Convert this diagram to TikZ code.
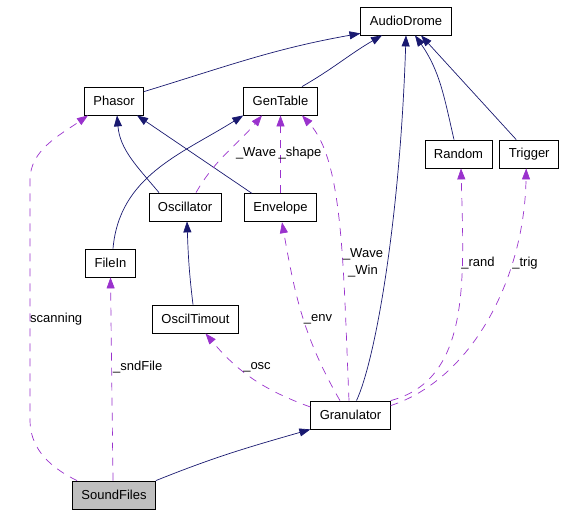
\documentclass[tikz,border=0pt]{standalone}
\usepackage{fontspec}
\setmainfont{Liberation Sans}
\usepackage{tikz}
\usetikzlibrary{arrows.meta}
\usetikzlibrary{positioning}
\definecolor{midnight}{HTML}{191970}
\definecolor{orchid}{HTML}{9A32CD}
\tikzset{
    cls/.style={
           rectangle,
           draw=black, line width=0.8pt,
           minimum height=28pt,
           inner xsep=9pt,
           text centered,
           },
}
\tikzset{
    sel/.style={
           cls,
           fill=gray!50,
           },
}
\tikzset{
    inh/.style={
           draw=midnight, line width=0.7pt,
           -{Triangle[length=11pt,width=8pt]},
           },
}
\tikzset{
    use/.style={
           draw=orchid, line width=0.7pt,
           dash pattern=on 8pt off 7pt,
           -{Triangle[length=11pt,width=8pt]},
           },
}
\tikzset{
    lbl/.style={
           inner sep=0pt,
           align=center,
           },
}
\begin{document}
\begin{tikzpicture}[font=\fontsize{13}{17}\selectfont]
\useasboundingbox (0,0) rectangle (565pt,-514pt);
\begin{scope}[x=1pt,y=1pt]
\node[cls](audio) at (406,-21){AudioDrome};
\node[cls](phasor) at (114,-101){Phasor};
\node[cls](gentable) at (280.5,-101){GenTable};
\node[cls](random) at (458.5,-154){Random};
\node[cls,right=7pt of random](trigger){Trigger};
\node[cls](oscillator) at (185,-207){Oscillator};
\node[cls,below=78pt of gentable](envelope){Envelope};
\node[cls](filein) at (110.5,-263){FileIn};
\node[cls](timout) at (195.5,-319){OscilTimout};
\node[cls](granulator) at (350.5,-415){Granulator};
\node[sel](sound) at (114,-495){SoundFiles};

\draw[inh] ([yshift=-5pt]phasor.north east) to[out=17,in=190] ([yshift=2pt]audio.south west);
\draw[inh] ([xshift=21.5pt]gentable.north) to[out=30,in=210] ([xshift=-24pt]audio.south);
\draw[inh] ([xshift=6pt]granulator.north) .. controls +(19,41) and +(-6,-184) .. (audio.south);
\draw[inh] ([xshift=-4.5pt]random.north) to[out=103,in=-55] ([xshift=9pt]audio.south);
\draw[inh] ([xshift=-13pt]trigger.north) -- ([xshift=15pt]audio.south);
\draw[inh] ([xshift=-26pt]oscillator.north) to[out=130,in=-85] ([xshift=3pt]phasor.south);
\draw[inh] ([xshift=-28.5pt]envelope.north) -- ([xshift=23pt]phasor.south);
\draw[inh] ([xshift=2.5pt]filein.north) to[out=85,in=212] (gentable.south west);
\draw[inh] ([xshift=-2.5pt]timout.north) to[out=97,in=-88] ([xshift=2pt]oscillator.south);
\draw[inh] (sound.north east) to[out=22,in=196] (granulator.south west);

\draw[use] ([xshift=5pt]sound.north west) .. controls (45,-465) and (30,-445) .. (30,-420) -- (30,-180) .. controls (30,-150) and (60,-135) .. ([xshift=4pt]phasor.south west);
\draw[use] ([xshift=-1pt]sound.north) -- (filein.south);
\draw[use] ([yshift=8pt]granulator.west) to[out=160,in=-50] ([xshift=10pt]timout.south);
\draw[use] ([xshift=-10.5pt]granulator.north) to[out=120,in=-80] ([xshift=1.5pt]envelope.south);
\draw[use] ([xshift=-1.5pt]granulator.north) .. controls +(-6,141) and +(41,-45) .. ([xshift=21.5pt]gentable.south);
\draw[use] ([xshift=11pt]oscillator.north) to[out=60,in=-130] ([xshift=-18.5pt]gentable.south);
\draw[use] (envelope.north) -- (gentable.south);
\draw[use] (granulator.north east) .. controls +(80,21) and +(3,-112) .. ([xshift=2.5pt]random.south);
\draw[use] ([yshift=-5pt]granulator.north east) .. controls +(80,26) and +(-2,-112) .. ([xshift=-3pt]trigger.south);

\node[lbl,anchor=west](scanning) at (30,-319){scanning};
\node[lbl,anchor=west](sndfile) at (113,-367){\_sndFile};
\node[lbl](osc) at (257,-367){\_osc};
\node[lbl](env) at (318,-319){\_env};
\node[lbl](wavewin) at (363,-263){\_Wave\\\_Win};
\node[lbl](wave) at (256,-153){\_Wave};
\node[lbl](shape) at (300,-153){\_shape};
\node[lbl](rand) at (478,-263){\_rand};
\node[lbl](trig) at (525,-263){\_trig};
\end{scope}
\end{tikzpicture}
\end{document}
